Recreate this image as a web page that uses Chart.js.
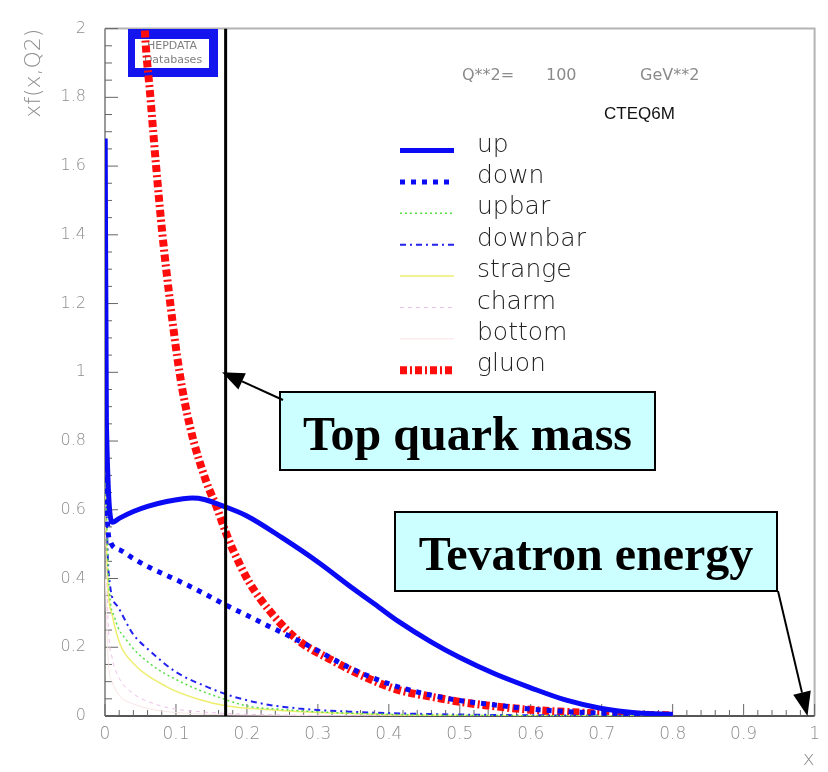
<!DOCTYPE html>
<html><head><meta charset="utf-8">
<script src="https://cdn.jsdelivr.net/npm/chart.js@4.4.1/dist/chart.umd.min.js"></script>
<style>html,body{margin:0;padding:0;background:#fff}canvas{display:block}</style>
</head><body>
<canvas id="c" width="828" height="772"></canvas>
<script>
// ---- data ----
const xTicks = [0, 0.1, 0.2, 0.3, 0.4, 0.5, 0.6, 0.7, 0.8, 0.9, 1];
const yTicks = [0, 0.2, 0.4, 0.6, 0.8, 1, 1.2, 1.4, 1.6, 1.8, 2];

const upX = [0.0003, 0.002, 0.011, 0.02, 0.04, 0.06, 0.087, 0.11, 0.123, 0.14, 0.165, 0.2, 0.25, 0.3, 0.35, 0.385, 0.413, 0.46, 0.5, 0.55, 0.6, 0.65, 0.7, 0.75, 0.8];
const upY = [1.68, 0.85, 0.564, 0.575, 0.595, 0.61, 0.624, 0.632, 0.634, 0.63, 0.612, 0.582, 0.518, 0.448, 0.37, 0.318, 0.276, 0.215, 0.17, 0.122, 0.082, 0.046, 0.022, 0.009, 0.005];

const downX = [0.0005, 0.003, 0.007, 0.021, 0.04, 0.063, 0.09, 0.11, 0.14, 0.17, 0.2, 0.227, 0.273, 0.3, 0.343, 0.385, 0.413, 0.45, 0.5, 0.55, 0.6, 0.65, 0.7, 0.75, 0.8];
const downY = [0.95, 0.6, 0.51, 0.483, 0.458, 0.432, 0.406, 0.387, 0.356, 0.323, 0.293, 0.265, 0.219, 0.19, 0.142, 0.105, 0.085, 0.065, 0.045, 0.032, 0.02, 0.013, 0.008, 0.005, 0.003];

const upbarX = [0.0005, 0.005, 0.014, 0.031, 0.063, 0.11, 0.157, 0.203, 0.25, 0.3, 0.4, 0.5, 0.6, 0.8];
const upbarY = [0.72, 0.4, 0.284, 0.219, 0.153, 0.096, 0.057, 0.028, 0.019, 0.012, 0.005, 0.002, 0.001, 0.0002];

const downbarX = [0.0005, 0.005, 0.018, 0.04, 0.063, 0.1, 0.147, 0.18, 0.227, 0.273, 0.35, 0.45, 0.55, 0.65, 0.8];
const downbarY = [0.75, 0.42, 0.318, 0.237, 0.19, 0.128, 0.082, 0.057, 0.034, 0.022, 0.012, 0.006, 0.003, 0.0015, 0.0005];

const strangeX = [0.0005, 0.004, 0.01, 0.021, 0.04, 0.087, 0.133, 0.17, 0.227, 0.3, 0.4, 0.5, 0.6, 0.8];
const strangeY = [0.65, 0.38, 0.295, 0.21, 0.153, 0.085, 0.048, 0.03, 0.019, 0.01, 0.004, 0.0015, 0.0007, 0.0001];

const charmX = [0.0005, 0.005, 0.01, 0.02, 0.04, 0.07, 0.1, 0.15, 0.2, 0.3, 0.5, 0.8];
const charmY = [0.55, 0.25, 0.17, 0.11, 0.065, 0.035, 0.02, 0.01, 0.005, 0.002, 0.0005, 0.0001];

const bottomX = [0.0005, 0.005, 0.01, 0.02, 0.04, 0.07, 0.1, 0.15, 0.2, 0.3, 0.5, 0.8];
const bottomY = [0.4, 0.15, 0.1, 0.06, 0.035, 0.018, 0.01, 0.005, 0.003, 0.001, 0.0003, 0.0001];

const gluonX = [0.05, 0.056, 0.064, 0.072, 0.081, 0.092, 0.105, 0.12, 0.143, 0.157, 0.171, 0.18, 0.203, 0.236, 0.273, 0.32, 0.367, 0.413, 0.46, 0.507, 0.55, 0.6, 0.65, 0.7, 0.75, 0.8];
const gluonY = [2.3, 2.0, 1.8, 1.6, 1.4, 1.2, 1.0, 0.84, 0.68, 0.61, 0.53, 0.485, 0.39, 0.296, 0.219, 0.162, 0.113, 0.076, 0.056, 0.039, 0.028, 0.018, 0.012, 0.007, 0.004, 0.002];

const topMassLineX = [0.17, 0.17];
const topMassLineY = [0, 2];

const legendLabels = ['up', 'down', 'upbar', 'downbar', 'strange', 'charm', 'bottom', 'gluon'];

// ---- helpers ----
const pts = (xs, ys) => xs.map((x, i) => ({x: x, y: ys[i]}));
const LIGHT = '"DejaVu Sans", "Noto Sans", sans-serif';

function ds(label, xs, ys, color, width, dash, extra) {
  return Object.assign({
    label: label, data: pts(xs, ys), borderColor: color, backgroundColor: color,
    borderWidth: width, borderDash: dash, pointRadius: 0, fill: false,
    cubicInterpolationMode: 'monotone', borderCapStyle: 'butt', clip: 0
  }, extra || {});
}

const datasets = [
  ds('', topMassLineX, topMassLineY, '#000000', 3, [], {cubicInterpolationMode: 'default', tension: 0, isMarker: true}),
  ds(legendLabels[0], upX, upY, '#0a0af5', 5, []),
  ds(legendLabels[1], downX, downY, '#0a0af5', 5, [5, 6]),
  ds(legendLabels[2], upbarX, upbarY, '#55dd44', 1.5, [2, 3]),
  ds(legendLabels[3], downbarX, downbarY, '#2222f0', 2, [6, 4, 2, 4]),
  ds(legendLabels[4], strangeX, strangeY, '#eeee70', 1.5, []),
  ds(legendLabels[5], charmX, charmY, '#eec0e8', 1, [4, 4]),
  ds(legendLabels[6], bottomX, bottomY, '#f8e4e4', 1, []),
  ds(legendLabels[7], gluonX, gluonY, '#ff0d0d', 8, [7, 3, 2, 3])
];

function arrow(ctx, x1, y1, x2, y2, len, half) {
  const ang = Math.atan2(y2 - y1, x2 - x1);
  const bx = x2 - len * Math.cos(ang), by = y2 - len * Math.sin(ang);
  ctx.beginPath(); ctx.moveTo(x1, y1); ctx.lineTo(bx, by);
  ctx.strokeStyle = '#000'; ctx.lineWidth = 2; ctx.setLineDash([]); ctx.stroke();
  ctx.beginPath();
  ctx.moveTo(x2, y2);
  ctx.lineTo(bx + half * Math.sin(ang), by - half * Math.cos(ang));
  ctx.lineTo(bx - half * Math.sin(ang), by + half * Math.cos(ang));
  ctx.closePath(); ctx.fillStyle = '#000'; ctx.fill();
}

const decor = {
  id: 'decor',
  beforeDatasetsDraw(chart) {
    const {ctx, chartArea: a, scales: {x: xs, y: ys}} = chart;
    ctx.save();
    // frame
    ctx.lineWidth = 2;
    ctx.strokeStyle = '#b4b4b4';
    ctx.beginPath(); ctx.moveTo(a.left, a.top); ctx.lineTo(a.right, a.top); ctx.lineTo(a.right, a.bottom); ctx.stroke();
    ctx.strokeStyle = '#9a9a9a';
    ctx.beginPath(); ctx.moveTo(a.left, a.top); ctx.lineTo(a.left, a.bottom); ctx.stroke();
    ctx.strokeStyle = '#555';
    ctx.beginPath(); ctx.moveTo(a.left, a.bottom); ctx.lineTo(a.right, a.bottom); ctx.stroke();
    // inward ticks
    ctx.lineWidth = 1;
    ctx.strokeStyle = '#666';
    for (let i = 0; i <= 40; i++) {
      const v = i * 0.05, p = ys.getPixelForValue(v);
      const major = i % 4 === 0;
      ctx.beginPath(); ctx.moveTo(a.left, p); ctx.lineTo(a.left + (major ? 13 : 7), p); ctx.stroke();
    }
    for (let i = 0; i <= 50; i++) {
      const v = i * 0.02, p = xs.getPixelForValue(v);
      const major = i % 5 === 0;
      ctx.beginPath(); ctx.moveTo(p, a.bottom); ctx.lineTo(p, a.bottom - (major ? 12 : 6)); ctx.stroke();
    }
    // HEPDATA logo
    ctx.fillStyle = '#1414ee';
    ctx.fillRect(128, 29, 90, 48);
    ctx.fillStyle = '#fff';
    ctx.fillRect(135, 39, 74, 29);
    ctx.fillStyle = '#808080';
    ctx.font = '11px ' + LIGHT;
    ctx.textAlign = 'center'; ctx.textBaseline = 'middle';
    ctx.fillText('HEPDATA', 172, 46);
    ctx.fillText('Databases', 173, 60);
    ctx.restore();
  },
  afterDraw(chart) {
    const {ctx, scales: {x: xs, y: ys}} = chart;
    ctx.save();
    // header texts
    ctx.fillStyle = '#8a8a8a';
    ctx.font = '16px ' + LIGHT;
    ctx.textBaseline = 'middle'; ctx.textAlign = 'left';
    ctx.fillText('Q**2=', 462, 76);
    ctx.fillText('100', 546, 76);
    ctx.fillText('GeV**2', 640, 76);
    ctx.fillStyle = '#111';
    ctx.font = '17px "Liberation Sans", Arial, sans-serif';
    ctx.fillText('CTEQ6M', 604, 114);
    // legend
    const base0 = 151.5, step = 31.4;
    chart.data.datasets.filter(d => !d.isMarker).forEach((d, i) => {
      const yb = base0 + i * step;
      ctx.beginPath();
      ctx.setLineDash(d.borderDash || []);
      ctx.lineCap = 'butt';
      ctx.strokeStyle = d.borderColor; ctx.lineWidth = d.borderWidth;
      ctx.moveTo(400, yb - 1); ctx.lineTo(454, yb - 1); ctx.stroke();
      ctx.setLineDash([]);
      ctx.fillStyle = '#222';
      ctx.font = '200 25px ' + LIGHT;
      ctx.textBaseline = 'alphabetic';
      ctx.fillText(d.label, 477, yb);
    });
    // annotation boxes
    ctx.lineWidth = 2; ctx.strokeStyle = '#000'; ctx.setLineDash([]);
    ctx.fillStyle = '#ccffff';
    ctx.fillRect(280, 392, 375, 78); ctx.strokeRect(280, 392, 375, 78);
    ctx.fillRect(395, 512, 382, 79); ctx.strokeRect(395, 512, 382, 79);
    ctx.fillStyle = '#000';
    ctx.font = 'bold 48px "Liberation Serif", "Times New Roman", serif';
    ctx.textAlign = 'center'; ctx.textBaseline = 'alphabetic';
    ctx.fillText('Top quark mass', 467.5, 450);
    ctx.fillText('Tevatron energy', 586, 570);
    // arrows pointing to data positions
    arrow(ctx, 283, 400, xs.getPixelForValue(0.165), ys.getPixelForValue(1.0), 22, 9);
    arrow(ctx, 778, 591, xs.getPixelForValue(0.99), ys.getPixelForValue(0), 24, 9);
    ctx.restore();
  }
};

const fmt = v => String(Number(Number(v).toFixed(1)));

new Chart(document.getElementById('c'), {
  type: 'line',
  data: {datasets: datasets},
  options: {
    responsive: false, animation: false, devicePixelRatio: 1,
    layout: {padding: {top: 15, right: 10, left: 0, bottom: 0}},
    plugins: {legend: {display: false}, tooltip: {enabled: false}},
    scales: {
      x: {
        type: 'linear', min: 0, max: 1,
        afterBuildTicks: s => { s.ticks = xTicks.map(v => ({value: v})); },
        afterFit: s => { s.height = 56; },
        grid: {display: false, drawTicks: false},
        border: {display: false},
        ticks: {padding: 8, color: '#8c8c8c', font: {family: 'DejaVu Sans', size: 17, weight: '200'}, callback: v => fmt(v), maxRotation: 0, autoSkip: false},
        title: {display: true, text: 'x', align: 'end', color: '#8c8c8c', font: {family: 'DejaVu Sans', size: 20, weight: '200'}, padding: {top: 0, bottom: 0}}
      },
      y: {
        type: 'linear', min: 0, max: 2,
        afterBuildTicks: s => { s.ticks = yTicks.map(v => ({value: v})); },
        afterFit: s => { s.width = 105; },
        grid: {display: false, drawTicks: false},
        border: {display: false},
        ticks: {padding: 19, color: '#8c8c8c', font: {family: 'DejaVu Sans', size: 16, weight: '200'}, callback: v => fmt(v), autoSkip: false},
        title: {display: true, text: 'xf(x,Q2)', align: 'end', color: '#8c8c8c', font: {family: 'DejaVu Sans', size: 22, weight: '200'}, padding: {top: 21, bottom: 0}}
      }
    }
  },
  plugins: [decor]
});
</script>
</body></html>
